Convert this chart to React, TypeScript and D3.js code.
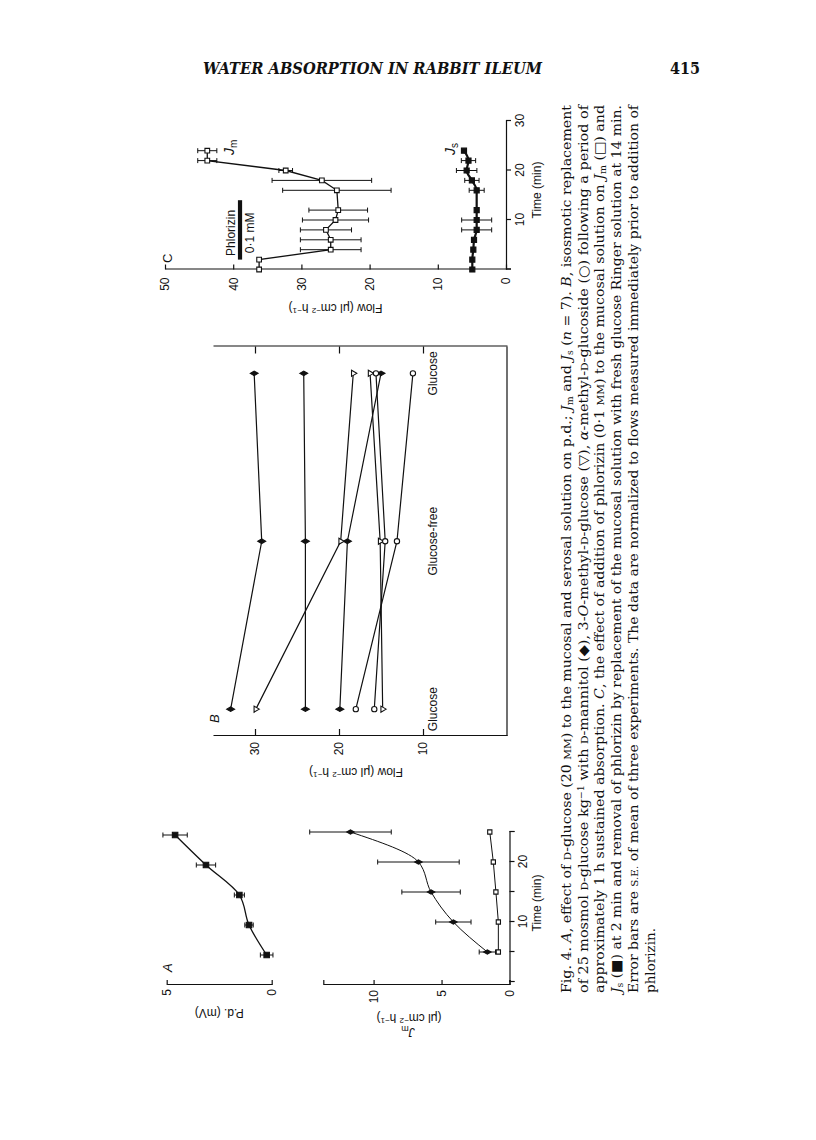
import React, { useEffect, useRef } from 'react';
import * as d3 from 'd3';

// Panel A, upper: p.d. (mV) against time (min)
const pdTimes = [4.5, 9.5, 14.5, 19.5, 24.5];
const pdValues = [0.24, 1.08, 1.54, 3.13, 4.6];
const pdErrors = [0.3, 0.2, 0.24, 0.46, 0.58];

// Panel A, lower: flows against time (min)
const flowTimesA = [5, 10, 15, 20, 25];
const risingFlowA = [1.63, 4.13, 5.77, 6.7, 11.7];
const risingErrA = [0.6, 1.3, 2.15, 3.0, 3.0];
const flatFlowA = [0.82, 0.82, 1.0, 1.19, 1.45];

// Panel B: three successive solutions
const conditionKeys = ['glucose-1', 'glucose-free', 'glucose-2'];
const conditionLabels = ['Glucose', 'Glucose-free', 'Glucose'];
const mannitolRuns = [
  [32.9, 29.2, 30.1],
  [24.0, 24.0, 24.2],
  [19.9, 19.0, 15.0],
];
const methylGlucoseRuns = [
  [29.9, 19.8, 18.3],
  [14.8, 15.1, 16.3],
];
const glucosideRuns = [
  [18.0, 13.1, 11.2],
  [15.8, 14.5, 15.6],
];

// Panel C: phlorizin experiment
const cTimes = [0, 2, 4, 6, 8, 10, 12, 16, 18, 20, 22, 24];
const jmValues = [36.2, 36.2, 25.7, 25.7, 26.4, 25.0, 24.6, 24.8, 27.0, 32.3, 43.8, 43.8];
const jmErrors = [0, 0, 4.45, 4.45, 3.75, 4.85, 4.3, 7.95, 7.3, 1.0, 1.4, 1.4];
const jsValues = [4.94, 4.94, 4.79, 4.69, 4.3, 4.3, 4.3, 4.3, 5.0, 5.77, 5.5, 6.16];
const jsErrors = [0, 0, 0, 0, 2.2, 2.2, 0, 1.1, 1.05, 1.5, 1.05, 0];
const phlorizinOn = 2;
const phlorizinOff = 14;

// Caption, line by line: [text, style]
const captionLines: [string, string?][][] = [
  [['Fig. 4. '], ['A', 'i'], [', effect of '], ['D', 'sc'], ['-glucose (20 '], ['MM', 'sc'], [') to the mucosal and serosal solution on p.d.; '], ['J', 'i'], ['m', 'sub'], [' and '], ['J', 'i'], ['s', 'sub'], [' ('], ['n', 'i'], [' = 7). '], ['B', 'i'], [', isosmotic replacement']],
  [['of 25 mosmol '], ['D', 'sc'], ['-glucose kg'], ['\u22121', 'sup'], [' with '], ['D', 'sc'], ['-mannitol (\u25C6), 3-'], ['O', 'i'], ['-methyl-'], ['D', 'sc'], ['-glucose (\u25BD), '], ['\u03B1', 'i'], ['-methyl-'], ['D', 'sc'], ['-glucoside (\u25CB) following a period of']],
  [['approximately 1 h sustained absorption. '], ['C', 'i'], [', the effect of addition of phlorizin (0\u00B71 '], ['MM', 'sc'], [') to the mucosal solution on '], ['J', 'i'], ['m', 'sub'], [' (\u25A1) and']],
  [['J', 'i'], ['s', 'sub'], [' (\u25A0) at 2 min and removal of phlorizin by replacement of the mucosal solution with fresh glucose Ringer solution at 14 min.']],
  [['Error bars are '], ['S.E.', 'sc'], [' of mean of three experiments. The data are normalized to flows measured immediately prior to addition of']],
  [['phlorizin.']],
];

const sans = '"Liberation Sans", Arial, Helvetica, sans-serif';
const serif = '"DejaVu Serif", "Liberation Serif", serif';
const ink = '#111';

const App: React.FC = () => {
  const svgRef = useRef<SVGSVGElement>(null);

  useEffect(() => {
    if (!svgRef.current) return;
    const svg = d3.select(svgRef.current);
    svg.selectAll('*').remove();

    svg.append('rect').attr('width', 816).attr('height', 1140).attr('fill', '#fff');

    // Running head
    svg.append('text')
      .attr('x', 203).attr('y', 74)
      .attr('font-family', serif).attr('font-size', 16)
      .attr('font-weight', 'bold').attr('font-style', 'italic')
      .attr('textLength', 339).attr('lengthAdjust', 'spacingAndGlyphs')
      .attr('fill', ink)
      .text('WATER ABSORPTION IN RABBIT ILEUM');
    svg.append('text')
      .attr('x', 670).attr('y', 74)
      .attr('font-family', serif).attr('font-size', 16).attr('font-weight', 'bold')
      .attr('textLength', 30).attr('lengthAdjust', 'spacingAndGlyphs').attr('fill', ink)
      .text('415');

    // The figure sits sideways on the page: draw it landscape, then turn it
    const fig = svg.append('g').attr('transform', 'translate(0,1140) rotate(-90)');

    const styleAxis = (g: any) => {
      g.attr('color', ink).attr('font-family', sans).attr('font-size', 12);
      g.selectAll('path, line').attr('stroke-width', 1.2);
    };

    const marker = (g: any, kind: string, x: number, y: number, size: number) => {
      const types: any = {
        square: d3.symbolSquare, diamond: d3.symbolDiamond,
        triangle: d3.symbolTriangle, circle: d3.symbolCircle,
      };
      const filled = kind.endsWith('-f');
      const base = kind.replace('-f', '');
      g.append('path')
        .attr('d', d3.symbol(types[base], size)())
        .attr('transform', `translate(${x},${y})${base === 'triangle' ? ' rotate(180)' : ''}`)
        .attr('fill', filled ? ink : '#fff')
        .attr('stroke', ink).attr('stroke-width', 1.1);
    };

    const errorBars = (g: any, xs: number[], ys: number[], es: number[], x: any, y: any) => {
      xs.forEach((t, i) => {
        if (!es[i]) return;
        const cx = x(t);
        const y0 = y(ys[i] - es[i]);
        const y1 = y(ys[i] + es[i]);
        g.append('line').attr('x1', cx).attr('x2', cx).attr('y1', y0).attr('y2', y1)
          .attr('stroke', ink).attr('stroke-width', 1);
        [y0, y1].forEach((yy) => {
          g.append('line').attr('x1', cx - 2.5).attr('x2', cx + 2.5).attr('y1', yy).attr('y2', yy)
            .attr('stroke', ink).attr('stroke-width', 1);
        });
      });
    };

    const rotatedLabel = (g: any, x: number, y: number, parts: [string, string?][]) => {
      const t = g.append('text')
        .attr('transform', `translate(${x},${y}) rotate(-90)`)
        .attr('text-anchor', 'middle')
        .attr('font-family', sans).attr('font-size', 12).attr('fill', ink);
      parts.forEach(([s, st]) => {
        const sp = t.append('tspan').text(s);
        if (st === 'sup') sp.attr('font-size', 8).attr('baseline-shift', '45%');
        if (st === 'sub') sp.attr('font-size', 9).attr('baseline-shift', '-25%');
        if (st === 'i') sp.attr('font-style', 'italic');
      });
      return t;
    };

    const flowUnits: [string, string?][] = [['Flow (\u03BCl cm'], ['\u22122', 'sup'], [' h'], ['\u22121', 'sup'], [')']];
    const unitsOnly: [string, string?][] = [['(\u03BCl cm'], ['\u22122', 'sup'], [' h'], ['\u22121', 'sup'], [')']];

    // ---------------- Panel A ----------------
    const xA = d3.scaleLinear().domain([0, 25]).range([158, 308]);
    const yPd = d3.scaleLinear().domain([0, 5]).range([271.7, 166.7]);
    const yJA = d3.scaleLinear().domain([0, 13.7]).range([509.5, 323.3]);
    const axisU = 155;

    const a = fig.append('g');
    a.append('g').attr('transform', `translate(${axisU},0)`)
      .call(d3.axisLeft(yPd).tickValues([0, 5]).tickFormat(d3.format('d')).tickSizeInner(-5).tickSizeOuter(0).tickPadding(4))
      .call(styleAxis);
    a.append('g').attr('transform', `translate(${axisU},0)`)
      .call(d3.axisLeft(yJA).tickValues([0, 5, 10]).tickSizeInner(-5).tickSizeOuter(-5).tickPadding(5))
      .call(styleAxis);
    a.append('g').attr('transform', `translate(0,${yJA(0)})`)
      .call(d3.axisBottom(xA).tickValues([0, 5, 10, 15, 20, 25]).tickSize(5).tickPadding(4)
        .tickFormat((d: any) => (d === 10 || d === 20 ? String(d) : '')))
      .call(styleAxis);

    a.append('path')
      .attr('d', d3.line<number>().x((t) => xA(t)).y((_, i) => yPd(pdValues[i])).curve(d3.curveMonotoneX)(pdTimes))
      .attr('fill', 'none').attr('stroke', ink).attr('stroke-width', 1.3);
    errorBars(a, pdTimes, pdValues, pdErrors, xA, yPd);
    pdTimes.forEach((t, i) => marker(a, 'square-f', xA(t), yPd(pdValues[i]), 30));

    a.append('path')
      .attr('d', d3.line<number>().x((t) => xA(t)).y((_, i) => yJA(risingFlowA[i])).curve(d3.curveMonotoneX)(flowTimesA))
      .attr('fill', 'none').attr('stroke', ink).attr('stroke-width', 1);
    errorBars(a, flowTimesA, risingFlowA, risingErrA, xA, yJA);
    flowTimesA.forEach((t, i) => marker(a, 'diamond-f', xA(t), yJA(risingFlowA[i]), 16));

    a.append('path')
      .attr('d', d3.line<number>().x((t) => xA(t)).y((_, i) => yJA(flatFlowA[i]))(flowTimesA))
      .attr('fill', 'none').attr('stroke', ink).attr('stroke-width', 1);
    flowTimesA.forEach((t, i) => marker(a, 'square', xA(t), yJA(flatFlowA[i]), 18));

    a.append('text').attr('x', 168).attr('y', 172)
      .attr('font-family', sans).attr('font-size', 13).attr('font-style', 'italic').attr('fill', ink)
      .text('A');
    rotatedLabel(a, 131, (yPd(0) + yPd(5)) / 2, [['P.d. (mV)']]);
    rotatedLabel(a, 112, 408, [['J', 'i'], ['m', 'sub']]);
    rotatedLabel(a, 126, 409, unitsOnly);
    a.append('text').attr('x', 237).attr('y', 541)
      .attr('text-anchor', 'middle').attr('font-family', sans).attr('font-size', 12).attr('fill', ink)
      .text('Time (min)');

    // ---------------- Panel B ----------------
    const xB = d3.scalePoint<string>().domain(conditionKeys).range([404, 793.5]).padding(0.16);
    const yB = d3.scaleLinear().domain([0, 35]).range([507, 213]);

    const b = fig.append('g');
    b.append('g').attr('transform', 'translate(404,0)')
      .call(d3.axisLeft(yB).tickValues([10, 20, 30]).tickSizeInner(-7).tickSizeOuter(0).tickPadding(6))
      .call(styleAxis);
    b.append('g').attr('transform', 'translate(793.5,0)')
      .call(d3.axisRight(yB).tickValues([10, 20, 30]).tickSizeInner(-7).tickSizeOuter(0).tickFormat(() => ''))
      .call(styleAxis);
    b.append('line').attr('x1', 404).attr('x2', 793.5).attr('y1', yB(0)).attr('y2', yB(0))
      .attr('stroke', ink).attr('stroke-width', 1.2);

    const bSeries = [
      ...mannitolRuns.map((v) => ({ kind: 'diamond-f', size: 18, values: v })),
      ...methylGlucoseRuns.map((v) => ({ kind: 'triangle', size: 16, values: v })),
      ...glucosideRuns.map((v) => ({ kind: 'circle', size: 22, values: v })),
    ];
    const bLine = d3.line<number>().x((_, i) => xB(conditionKeys[i]) as number).y((d) => yB(d));
    bSeries.forEach((s) => {
      b.append('path').attr('d', bLine(s.values)).attr('fill', 'none')
        .attr('stroke', ink).attr('stroke-width', 1.2);
    });
    bSeries.forEach((s) => {
      s.values.forEach((v, i) => marker(b, s.kind, xB(conditionKeys[i]) as number, yB(v), s.size));
    });
    conditionKeys.forEach((k, i) => {
      b.append('text').attr('x', xB(k) as number).attr('y', 437)
        .attr('text-anchor', 'middle').attr('font-family', sans).attr('font-size', 12).attr('fill', ink)
        .text(conditionLabels[i]);
    });
    b.append('text').attr('x', 417).attr('y', 219)
      .attr('font-family', sans).attr('font-size', 13).attr('font-style', 'italic').attr('fill', ink)
      .text('B');
    rotatedLabel(b, 372, 356, flowUnits);

    // ---------------- Panel C ----------------
    const xC = d3.scaleLinear().domain([0, 30]).range([870.5, 1019]);
    const yC = d3.scaleLinear().domain([0, 50]).range([506, 165]);

    const c = fig.append('g');
    c.append('g').attr('transform', `translate(${xC(0)},0)`)
      .call(d3.axisLeft(yC).tickValues([0, 10, 20, 30, 40, 50]).tickSizeInner(-5).tickSizeOuter(0).tickPadding(8))
      .call(styleAxis);
    c.append('g').attr('transform', `translate(0,${yC(0)})`)
      .call(d3.axisBottom(xC).tickValues([0, 10, 20, 30]).tickSize(5).tickPadding(4)
        .tickFormat((d: any) => (d === 0 ? '' : String(d))))
      .call(styleAxis);

    c.append('path')
      .attr('d', d3.line<number>().x((t) => xC(t)).y((_, i) => yC(jmValues[i]))(cTimes))
      .attr('fill', 'none').attr('stroke', ink).attr('stroke-width', 1.3);
    errorBars(c, cTimes, jmValues, jmErrors, xC, yC);
    cTimes.forEach((t, i) => marker(c, 'square', xC(t), yC(jmValues[i]), 22));

    c.append('path')
      .attr('d', d3.line<number>().x((t) => xC(t)).y((_, i) => yC(jsValues[i])).curve(d3.curveMonotoneX)(cTimes))
      .attr('fill', 'none').attr('stroke', ink).attr('stroke-width', 2.2);
    errorBars(c, cTimes, jsValues, jsErrors, xC, yC);
    cTimes.forEach((t, i) => marker(c, 'square-f', xC(t), yC(jsValues[i]), 26));

    // phlorizin bar
    c.append('line').attr('x1', xC(phlorizinOn)).attr('x2', xC(phlorizinOff))
      .attr('y1', yC(39)).attr('y2', yC(39)).attr('stroke', ink).attr('stroke-width', 4.2);
    const barMid = (xC(phlorizinOn) + xC(phlorizinOff)) / 2 - 3;
    c.append('text').attr('x', barMid).attr('y', yC(39) - 5)
      .attr('text-anchor', 'middle').attr('font-family', sans).attr('font-size', 12).attr('fill', ink)
      .text('Phlorizin');
    c.append('text').attr('x', barMid).attr('y', yC(39) + 14)
      .attr('text-anchor', 'middle').attr('font-family', sans).attr('font-size', 12).attr('fill', ink)
      .text('0\u00B71 mM');

    const subLabel = (x: number, y: number, sub: string) => {
      const t = c.append('text').attr('x', x).attr('y', y)
        .attr('font-family', sans).attr('font-size', 14).attr('fill', ink);
      t.append('tspan').attr('font-style', 'italic').text('J');
      t.append('tspan').attr('font-size', 10).attr('baseline-shift', '-25%').text(sub);
    };
    subLabel(985, 234, 'm');
    subLabel(985, 455, 's');

    c.append('text').attr('x', 877).attr('y', 172)
      .attr('font-family', sans).attr('font-size', 13).attr('fill', ink)
      .text('C');
    rotatedLabel(c, 836, (yC(0) + yC(50)) / 2, flowUnits);
    c.append('text').attr('x', 950).attr('y', 541)
      .attr('text-anchor', 'middle').attr('font-family', sans).attr('font-size', 12).attr('fill', ink)
      .text('Time (min)');

    // ---------------- Caption ----------------
    const cap = fig.append('g').attr('font-family', serif).attr('font-size', 13.5).attr('fill', ink);
    captionLines.forEach((parts, li) => {
      const t = cap.append('text').attr('x', 147).attr('y', 571 + li * 16.7);
      if (li < captionLines.length - 1) t.attr('textLength', 888).attr('lengthAdjust', 'spacingAndGlyphs');
      parts.forEach(([s, st]) => {
        const sp = t.append('tspan').text(s);
        if (st === 'i') sp.attr('font-style', 'italic');
        if (st === 'sc') sp.attr('font-size', 10);
        if (st === 'sub') sp.attr('font-size', 9).attr('baseline-shift', '-20%');
        if (st === 'sup') sp.attr('font-size', 9).attr('baseline-shift', '40%');
      });
    });
  }, []);

  return (
    <svg ref={svgRef} width={816} height={1140} style={{ position: 'absolute', left: 0, top: 0 }}></svg>
  );
};

export default App;
